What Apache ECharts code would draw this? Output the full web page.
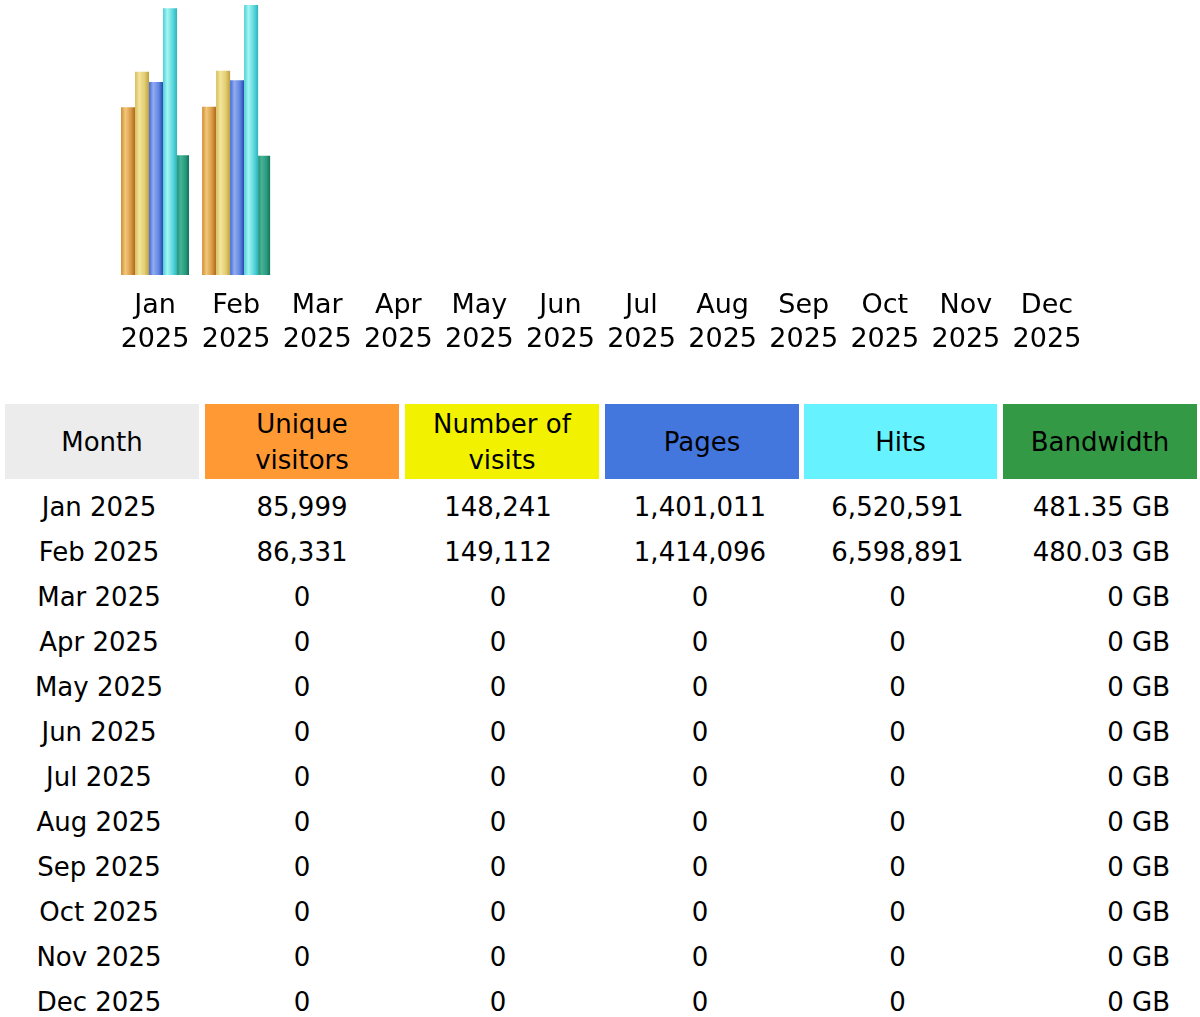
<!DOCTYPE html>
<html>
<head>
<meta charset="utf-8">
<script src="https://cdn.jsdelivr.net/npm/echarts@6/dist/echarts.min.js"></script>
<style>
html,body{margin:0;padding:0;background:#fff;width:1200px;height:1017px;overflow:hidden;font-family:"DejaVu Sans",sans-serif;color:#000;}
#chart{position:absolute;left:0;top:0;width:1200px;height:370px;}
.cell{position:absolute;box-sizing:border-box;display:flex;align-items:center;justify-content:center;text-align:center;font-size:26px;line-height:36px;}
</style>
</head>
<body>
<div id="chart"></div>
<div id="table"></div>
<script>
// ---- data ----
var months = ['Jan 2025','Feb 2025','Mar 2025','Apr 2025','May 2025','Jun 2025','Jul 2025','Aug 2025','Sep 2025','Oct 2025','Nov 2025','Dec 2025'];
var monthLabels = ['Jan\n2025','Feb\n2025','Mar\n2025','Apr\n2025','May\n2025','Jun\n2025','Jul\n2025','Aug\n2025','Sep\n2025','Oct\n2025','Nov\n2025','Dec\n2025'];
var uniqueVisitors = [85999, 86331, 0, 0, 0, 0, 0, 0, 0, 0, 0, 0];
var visits = [148241, 149112, 0, 0, 0, 0, 0, 0, 0, 0, 0, 0];
var pages = [1401011, 1414096, 0, 0, 0, 0, 0, 0, 0, 0, 0, 0];
var hits = [6520591, 6598891, 0, 0, 0, 0, 0, 0, 0, 0, 0, 0];
var bandwidthGB = [481.35, 480.03, 0, 0, 0, 0, 0, 0, 0, 0, 0, 0];
var headers = ['Month', 'Unique\nvisitors', 'Number of\nvisits', 'Pages', 'Hits', 'Bandwidth'];

// ---- chart ----
function cyl(c0, c1, c2, c3) {
  return new echarts.graphic.LinearGradient(0, 0, 1, 0, [
    {offset: 0, color: c0}, {offset: 0.3, color: c1}, {offset: 0.7, color: c2}, {offset: 1, color: c3}
  ]);
}
var axisMax = [138500, 197000, 1960000, 6600000, 1086];
var styles = [
  {w: 14, c: cyl('#d08a35', '#f2c878', '#d89a48', '#b06818')},
  {w: 14, c: cyl('#d6bc5c', '#f3e59c', '#e2cc70', '#bca040')},
  {w: 14, c: cyl('#4068d0', '#93acf2', '#5f84e0', '#2448b0')},
  {w: 14, c: cyl('#48d0d2', '#a6f4f4', '#5ad8dc', '#2cb4bc')},
  {w: 12, c: cyl('#23907a', '#45b494', '#2a9a80', '#137256')}
];
var seriesData = [uniqueVisitors, visits, pages, hits, bandwidthGB];
var names = ['Unique visitors', 'Number of visits', 'Pages', 'Hits', 'Bandwidth'];
var yAxes = axisMax.map(function (m) {
  return {type: 'value', min: 0, max: m, show: false};
});
var series = seriesData.map(function (d, i) {
  return {
    name: names[i], type: 'bar', yAxisIndex: i, data: d,
    barWidth: styles[i].w, barGap: '0%',
    itemStyle: {color: styles[i].c}, silent: true, animation: false
  };
});
var chart = echarts.init(document.getElementById('chart'), null, {renderer: 'canvas'});
chart.setOption({
  animation: false,
  grid: {left: 114.5, right: 112.5, top: 5, bottom: 95, containLabel: false},
  xAxis: {
    type: 'category', data: monthLabels,
    axisLine: {show: false}, axisTick: {show: false}, splitLine: {show: false},
    axisLabel: {color: '#000', fontSize: 27, lineHeight: 34, margin: 14, fontFamily: 'DejaVu Sans', interval: 0}
  },
  yAxis: yAxes,
  series: series
});

// ---- table ----
var colLeft = [5, 205, 405, 605, 804, 1003];
var colWidth = [194, 194, 194, 194, 193, 194];
var colPadR = [6, 0, 8, 4, 6, 27];
var headBg = ['#ececec', '#ff9933', '#f2f200', '#4477dd', '#66f2ff', '#339944'];
var tbl = document.getElementById('table');
function fmt(n) { return n.toLocaleString('en-US'); }
headers.forEach(function (h, i) {
  var d = document.createElement('div');
  d.className = 'cell';
  d.style.left = colLeft[i] + 'px'; d.style.top = '404px';
  d.style.width = colWidth[i] + 'px'; d.style.height = '75px';
  d.style.background = headBg[i];
  d.innerHTML = h.replace('\n', '<br>');
  tbl.appendChild(d);
});
months.forEach(function (m, r) {
  var vals = [m, fmt(uniqueVisitors[r]), fmt(visits[r]), fmt(pages[r]), fmt(hits[r]), bandwidthGB[r] + ' GB'];
  vals.forEach(function (v, i) {
    var d = document.createElement('div');
    d.className = 'cell';
    d.style.left = colLeft[i] + 'px'; d.style.top = (484.5 + r * 45) + 'px';
    d.style.width = colWidth[i] + 'px'; d.style.height = '45px';
    d.style.paddingRight = colPadR[i] + 'px';
    if (i === 5) { d.style.justifyContent = 'flex-end'; }
    d.textContent = v;
    tbl.appendChild(d);
  });
});
</script>
</body>
</html>
